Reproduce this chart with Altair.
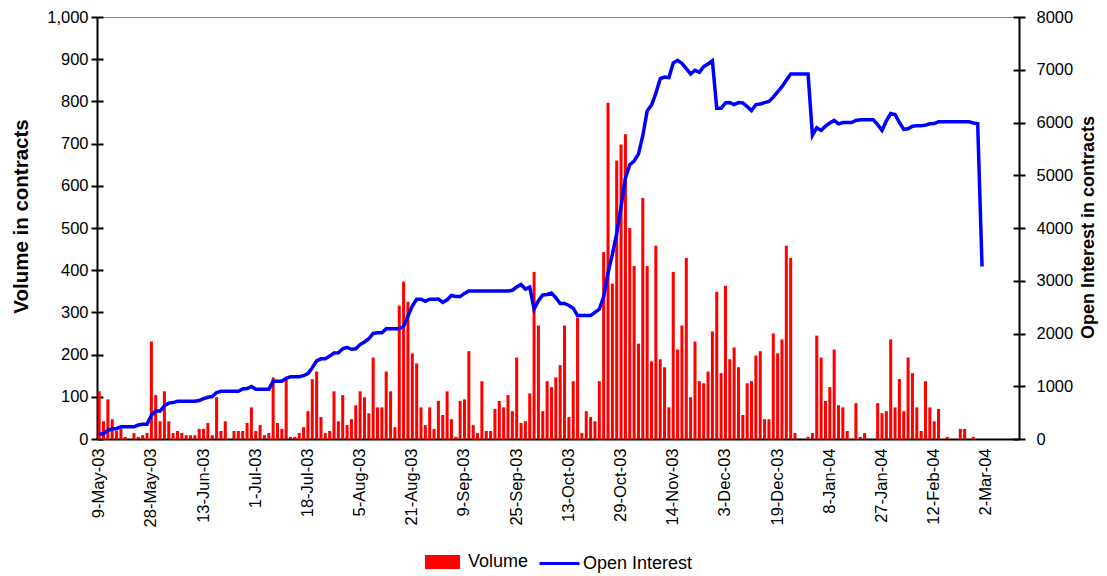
import altair as alt
import pandas as pd

# ---- categories: trading days (Excel category axis) ----
START = "2003-05-09"
END = "2004-03-11"
HOLIDAYS = ["2003-05-26", "2003-07-04", "2003-09-01", "2003-11-27",
            "2003-12-25", "2004-01-01", "2004-01-19", "2004-02-16"]
trading_days = pd.bdate_range(START, END, freq="C", holidays=HOLIDAYS)
day_labels = [f"{d.day}-{d.strftime('%b')}-{d.strftime('%y')}" for d in trading_days]

tick_labels = ["9-May-03", "28-May-03", "13-Jun-03", "1-Jul-03", "18-Jul-03",
               "5-Aug-03", "21-Aug-03", "9-Sep-03", "25-Sep-03", "13-Oct-03",
               "29-Oct-03", "14-Nov-03", "3-Dec-03", "19-Dec-03", "8-Jan-04",
               "27-Jan-04", "12-Feb-04", "2-Mar-04"]

volume = [
    113, 42, 94, 47, 20, 24, 5, 0, 14, 5,
    9, 14, 231, 104, 42, 113, 42, 14, 19, 14,
    9, 9, 9, 24, 24, 38, 9, 99, 19, 42,
    0, 19, 19, 19, 38, 75, 19, 33, 9, 14,
    146, 38, 24, 142, 5, 5, 14, 28, 66, 142,
    160, 52, 14, 19, 113, 42, 104, 33, 47, 80,
    113, 99, 61, 193, 75, 75, 160, 113, 28, 316,
    373, 325, 203, 179, 75, 33, 75, 24, 90, 57,
    113, 47, 5, 90, 94, 208, 33, 14, 137, 19,
    19, 71, 90, 75, 104, 66, 193, 38, 42, 108,
    396, 269, 66, 137, 123, 146, 175, 269, 52, 137,
    288, 14, 66, 52, 42, 137, 443, 797, 368, 660,
    698, 722, 500, 410, 226, 571, 410, 184, 458, 189,
    170, 75, 396, 212, 269, 429, 99, 231, 137, 132,
    160, 255, 349, 156, 363, 189, 217, 170, 57, 132,
    137, 198, 208, 47, 47, 250, 203, 236, 458, 429,
    14, 0, 0, 5, 14, 245, 193, 90, 123, 212,
    80, 75, 19, 0, 85, 5, 14, 0, 0, 85,
    61, 66, 236, 75, 142, 66, 193, 156, 75, 19,
    137, 75, 42, 71, 0, 5, 0, 0, 24, 24,
    0, 5, 0, 0,
]

open_interest = [
    90, 100, 165, 190, 200, 230, 230, 230, 230, 265,
    280, 280, 450, 530, 530, 630, 680, 690, 715, 715,
    715, 715, 715, 730, 765, 790, 805, 880, 905, 905,
    905, 905, 905, 950, 956, 994, 943, 943, 943, 943,
    1094, 1094, 1094, 1150, 1182, 1182, 1182, 1200, 1240, 1350,
    1480, 1520, 1522, 1572, 1630, 1635, 1710, 1736, 1700, 1710,
    1790, 1840, 1900, 2000, 2013, 2013, 2088, 2088, 2088, 2088,
    2140, 2330, 2520, 2650, 2650, 2610, 2650, 2650, 2654, 2590,
    2640, 2720, 2700, 2700, 2760, 2805, 2805, 2805, 2805, 2805,
    2805, 2805, 2805, 2805, 2805, 2820, 2880, 2930, 2843, 2880,
    2465, 2622, 2730, 2740, 2767, 2680, 2570, 2570, 2530, 2480,
    2340, 2340, 2340, 2340, 2400, 2460, 2700, 3150, 3500, 3900,
    4400, 4950, 5200, 5270, 5400, 5750, 6220, 6330, 6550, 6830,
    6860, 6850, 7130, 7180, 7120, 7020, 6920, 6990, 6950, 7060,
    7110, 7170, 6270, 6270, 6370, 6377, 6340, 6377, 6370, 6300,
    6226, 6340, 6350, 6377, 6400, 6480, 6580, 6680, 6800, 6918,
    6918, 6918, 6918, 6918, 5760, 5900, 5850, 5930, 5990, 6040,
    5975, 6000, 6000, 6000, 6040, 6050, 6050, 6050, 6050, 5960,
    5850, 6030, 6170, 6150, 6000, 5870, 5880, 5930, 5937, 5937,
    5950, 5975, 5980, 6012, 6012, 6012, 6012, 6012, 6012, 6012,
    6012, 5990, 5975, 3270,
]

vol_ticks = list(range(0, 1001, 100))
oi_ticks = list(range(0, 8001, 1000))

n = len(volume)
df = pd.DataFrame({
    "day": day_labels[:n],
    "volume": volume,
    "oi": open_interest,
    "vseries": ["Volume"] * n,
    "oseries": ["Open Interest"] * n,
})

FONT = "Liberation Sans"
LBL = 16.5
LEG = 18
PLOT_H = 422

x_enc = alt.X(
    "day:N",
    scale=alt.Scale(domain=day_labels, paddingInner=0.3, paddingOuter=0.15),
    axis=alt.Axis(values=tick_labels, labelAngle=270, labelFontSize=LBL,
                  labelPadding=9, ticks=False, domainColor="black",
                  domainWidth=2, labelColor="black", title=None,
                  labelOverlap=False, grid=False, labelFont=FONT),
)

bars = alt.Chart(df).mark_bar().encode(
    x=x_enc,
    y=alt.Y("volume:Q", scale=alt.Scale(domain=[0, 1000], nice=False),
            axis=alt.Axis(orient="left", values=vol_ticks, format=",.0f",
                          grid=False, domainColor="black", domainWidth=2,
                          tickColor="black", tickWidth=2, tickSize=6,
                          labelPadding=3, labelFontSize=LBL, labelColor="black",
                          labelFont=FONT,
                          title="Volume in contracts", titleFontSize=20.5,
                          titleFont=FONT, titleFontWeight="bold",
                          titleColor="black", titleAngle=270,
                          titleAlign="center", titleBaseline="middle",
                          titleX=-76, titleY=199)),
    fill=alt.Fill("vseries:N",
                  scale=alt.Scale(domain=["Volume"], range=["#FF0000"]),
                  legend=alt.Legend(title=None, orient="none", legendX=328,
                                    legendY=527.5, padding=0,
                                    symbolType="M-1,-0.4H1V0.4H-1Z",
                                    symbolSize=1225, symbolStrokeWidth=0,
                                    labelFontSize=LEG, labelOffset=8,
                                    labelColor="black", labelFont=FONT)),
)

line = alt.Chart(df).mark_line(strokeWidth=3.5).encode(
    x=alt.X("day:N"),
    y=alt.Y("oi:Q", scale=alt.Scale(domain=[0, 8000], nice=False),
            axis=alt.Axis(orient="right", values=oi_ticks, format="d",
                          grid=False, domainColor="black", domainWidth=2,
                          tickColor="black", tickWidth=2, tickSize=6,
                          labelPadding=11, labelFontSize=LBL, labelColor="black",
                          labelFont=FONT,
                          title="Open Interest in contracts", titleFontSize=18,
                          titleFont=FONT, titleFontWeight="bold",
                          titleColor="black", titleAngle=270,
                          titleAlign="center", titleBaseline="middle",
                          titleX=69, titleY=210)),
    stroke=alt.Stroke("oseries:N",
                      scale=alt.Scale(domain=["Open Interest"], range=["#0000FF"]),
                      legend=alt.Legend(title=None, orient="none", legendX=441,
                                        legendY=525, padding=0,
                                        symbolType="stroke", symbolSize=1600,
                                        symbolStrokeWidth=3,
                                        labelFontSize=LEG, labelOffset=2,
                                        labelColor="black", labelFont=FONT)),
)

# inner halves of the crossing tick marks
left_inner = alt.Chart(df).mark_point(opacity=0).encode(
    y=alt.Y("volume:Q", scale=alt.Scale(domain=[0, 1000], nice=False),
            axis=alt.Axis(orient="left", offset=-6, values=vol_ticks,
                          labels=False, domain=False, tickSize=6, tickWidth=2,
                          tickColor="black", title=None, grid=False)),
)
right_inner = alt.Chart(df).mark_point(opacity=0).encode(
    y=alt.Y("oi:Q", scale=alt.Scale(domain=[0, 8000], nice=False),
            axis=alt.Axis(orient="right", offset=-6, values=oi_ticks,
                          labels=False, domain=False, tickSize=6, tickWidth=2,
                          tickColor="black", title=None, grid=False)),
)

chart = (
    alt.layer(bars, line, left_inner, right_inner)
    .resolve_scale(y="independent", fill="independent", stroke="independent")
    .properties(
        width=922, height=PLOT_H,
        autosize=alt.AutoSizeParams(type="none"),
        padding={"left": 89, "top": 9, "right": 80, "bottom": 140},
        title=alt.Title("Through March 1, 2004", fontSize=23,
                        fontWeight="bold", font=FONT, color="black",
                        anchor="middle", frame="group", baseline="alphabetic",
                        offset=14),
    )
    .configure_view(stroke="#808080", strokeWidth=1)
)

chart.save("out.html", embed_options={"renderer": "svg", "actions": False})
